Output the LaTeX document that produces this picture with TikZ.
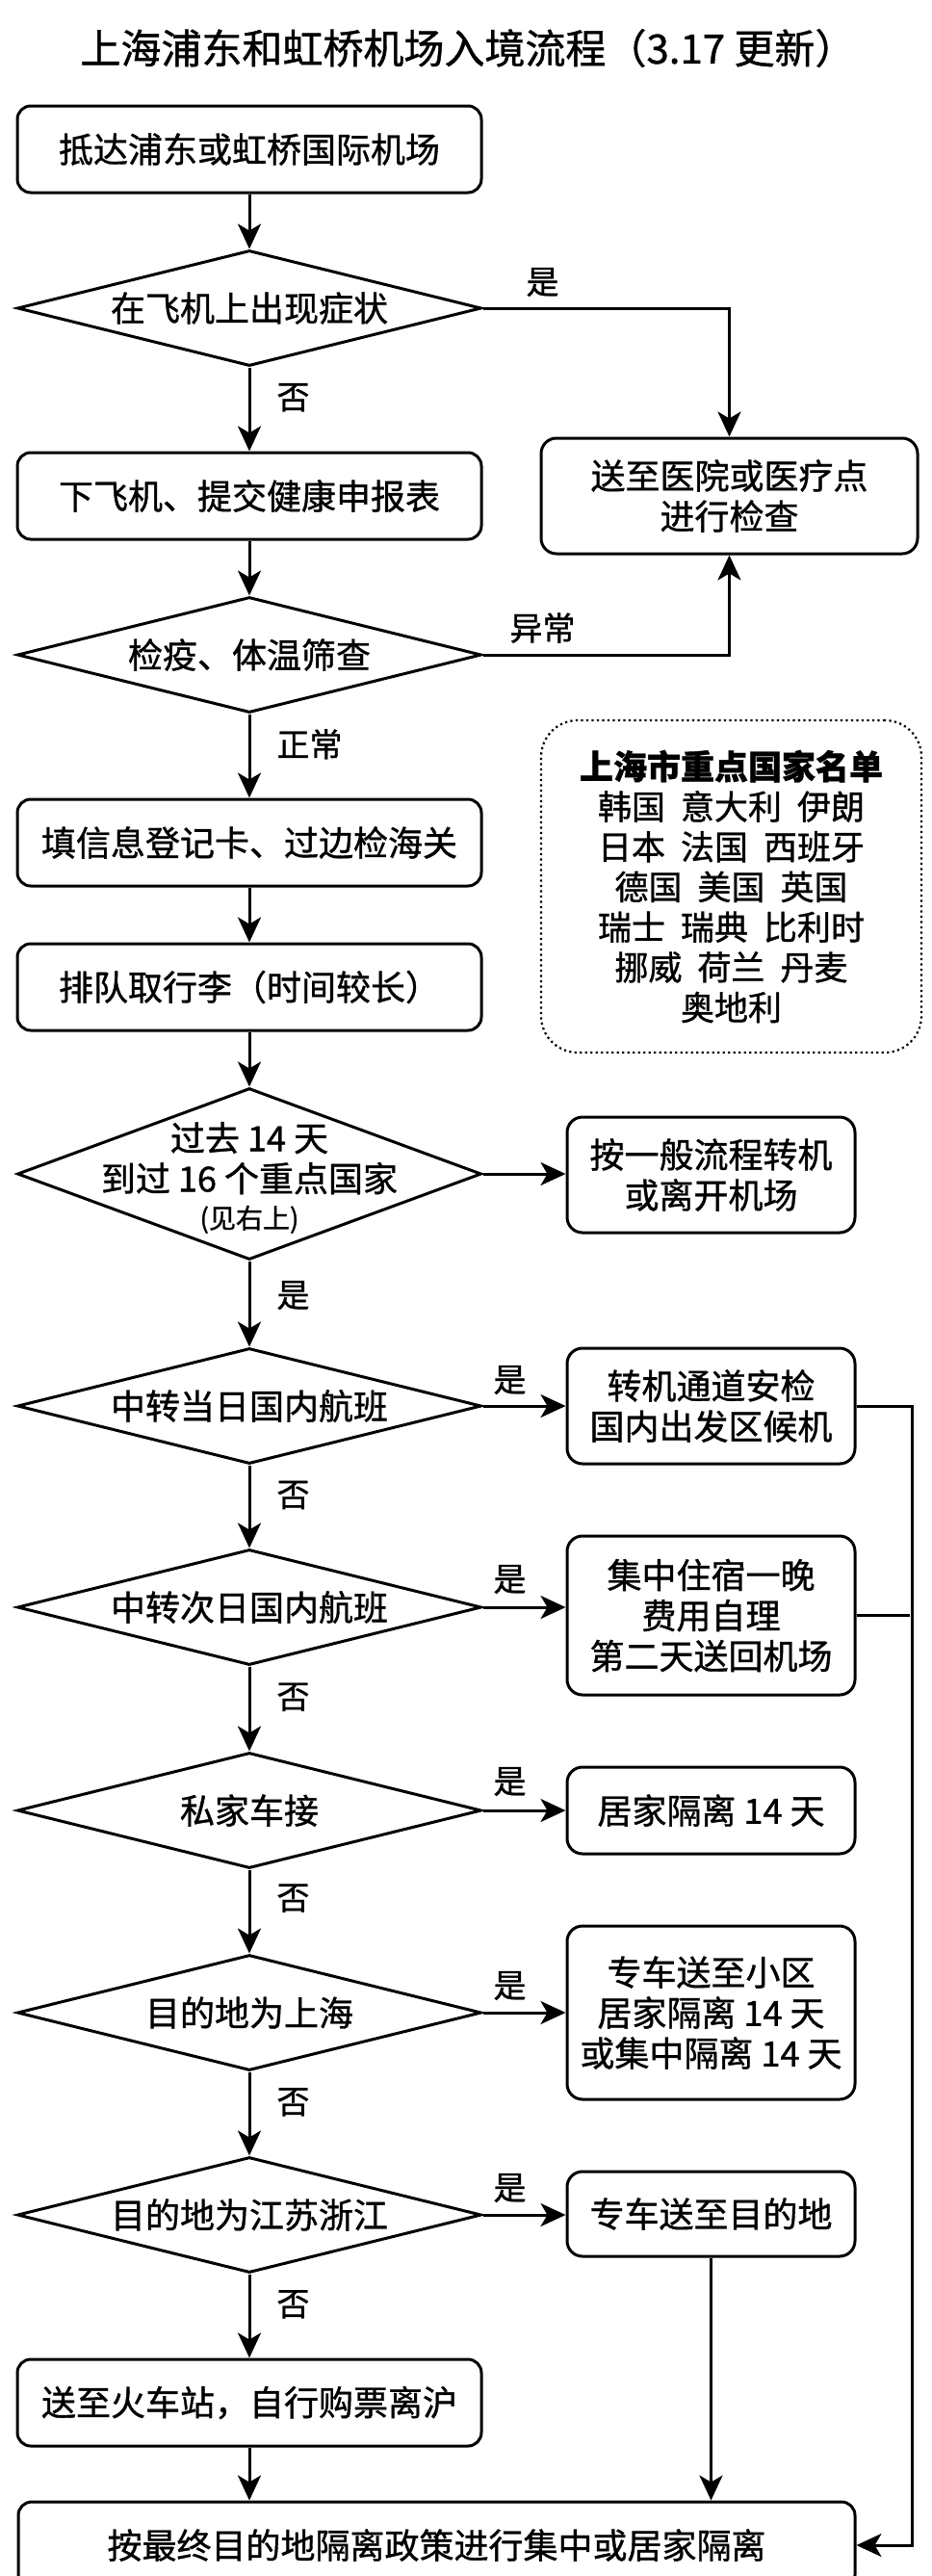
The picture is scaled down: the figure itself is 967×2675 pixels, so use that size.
\documentclass[tikz,border=0pt]{standalone}
\usepackage{fontspec}
\setmainfont{Noto Sans CJK SC}[FakeBold=1]
\usetikzlibrary{shapes.geometric,arrows.meta,calc}
\newcommand\fsz[2]{\fontsize{#1}{#2}\selectfont}
\newcommand\cgap{\hspace{16pt}}
\begin{document}
\begin{tikzpicture}[x=1pt,y=-1pt,
  box/.style={draw, line width=3pt, rounded corners=14pt, minimum width=482pt, minimum height=90pt, inner sep=0pt, font=\fsz{36}{42}, align=center},
  rbox/.style={draw, line width=3pt, rounded corners=16pt, minimum width=299pt, inner sep=0pt, font=\fsz{36}{42}, align=center},
  dia/.style={draw, diamond, line width=3pt, minimum width=482pt, minimum height=120pt, inner sep=0pt},
  txt/.style={inner sep=0pt, font=\fsz{36}{42}, align=center},
  note/.style={draw, line width=2.2pt, dash pattern=on 2.2pt off 3.3pt, rounded corners=38pt, minimum width=395pt, minimum height=345pt, inner sep=0pt, font=\fsz{35}{41.7}, align=center},
  arr/.style={line width=3pt, -{Stealth[length=26pt,width=24pt,inset=7pt]}},
  ln/.style={line width=3pt},
  lbl/.style={inner sep=0pt, font=\fsz{34}{40}},
  ttl/.style={inner sep=0pt, font=\fsz{42}{48}}
]
\useasboundingbox (0,0) rectangle (967,2675);
\fill[white] (0,0) rectangle (967,2675);
\clip (0,0) rectangle (967,2675);

% title
\node[ttl] (title) at (486,50) {上海浦东和虹桥机场入境流程（3.17 更新）};

% main column
\node[box] (b1) at (259,155) {抵达浦东或虹桥国际机场};
\node[dia] (d1) at (259,320) {};
\node[txt] (d1t) at (d1) {在飞机上出现症状};
\node[box] (b2) at (259,515) {下飞机、提交健康申报表};
\node[dia] (d2) at (259,680) {};
\node[txt] (d2t) at (d2) {检疫、体温筛查};
\node[box] (b3) at (259,875) {填信息登记卡、过边检海关};
\node[box] (b4) at (259,1025) {排队取行李（时间较长）};
\node[dia, minimum height=178pt] (d3) at (259,1219) {};
\node[txt] (d3t) at (259,1223) {过去 14 天\\到过 16 个重点国家\\[-4pt]{\fsz{28}{32}(见右上)}};
\node[dia] (d4) at (259,1460) {};
\node[txt] (d4t) at (d4) {中转当日国内航班};
\node[dia] (d5) at (259,1669) {};
\node[txt] (d5t) at (d5) {中转次日国内航班};
\node[dia] (d6) at (259,1880) {};
\node[txt] (d6t) at (d6) {私家车接};
\node[dia] (d7) at (259,2090) {};
\node[txt] (d7t) at (d7) {目的地为上海};
\node[dia] (d8) at (259,2300) {};
\node[txt] (d8t) at (d8) {目的地为江苏浙江};
\node[box] (b5) at (259,2495) {送至火车站，自行购票离沪};
\node[box, minimum width=869pt] (fin) at (453.5,2643) {按最终目的地隔离政策进行集中或居家隔离};

% right column
\node[rbox, minimum width=391pt, minimum height=120pt] (hosp) at (757.5,515) {送至医院或医疗点\\进行检查};
\node[note] (list) at (759.5,920.5) {\textbf{上海市重点国家名单}\\韩国\cgap 意大利\cgap 伊朗\\日本\cgap 法国\cgap 西班牙\\德国\cgap 美国\cgap 英国\\瑞士\cgap 瑞典\cgap 比利时\\挪威\cgap 荷兰\cgap 丹麦\\奥地利};
\node[rbox, minimum height=120pt] (r3) at (738.5,1220) {按一般流程转机\\或离开机场};
\node[rbox, minimum height=120pt] (r4) at (738.5,1460) {转机通道安检\\国内出发区候机};
\node[rbox, minimum height=165pt] (r5) at (738.5,1677.5) {集中住宿一晚\\费用自理\\第二天送回机场};
\node[rbox, minimum height=90pt] (r6) at (738.5,1880) {居家隔离 14 天};
\node[rbox, minimum height=180pt] (r7) at (738.5,2090) {专车送至小区\\居家隔离 14 天\\或集中隔离 14 天};
\node[rbox, minimum height=88pt] (r8) at (738.5,2299) {专车送至目的地};
\coordinate (rx) at (947,1460);

% connectors
\draw[arr] (b1.south) -- (d1.north);
\draw[arr] (d1.south) -- node[lbl,pos=.36,right=27pt]{否} (b2.north);
\draw[arr] (d1.east) -| (hosp.north);
\node[lbl] (y1) at ($(d1.east)+(62,-27)$) {是};
\draw[arr] (b2.south) -- (d2.north);
\draw[arr] (d2.east) -| (hosp.south);
\node[lbl] (y2) at ($(d2.east)+(62,-28)$) {异常};
\draw[arr] (d2.south) -- node[lbl,pos=.36,right=27pt]{正常} (b3.north);
\draw[arr] (b3.south) -- (b4.north);
\draw[arr] (b4.south) -- (d3.north);
\draw[arr] (d3.east) -- (d3.east -| r3.west);
\draw[arr] (d3.south) -- node[lbl,pos=.4,right=27pt]{是} (d4.north);
\draw[arr] (d4.east) -- (r4.west);
\node[lbl] (y4) at ($(d4.east)+(28,-27)$) {是};
\draw[arr] (d4.south) -- node[lbl,pos=.36,right=27pt]{否} (d5.north);
\draw[arr] (d5.east) -- (d5.east -| r5.west);
\node[lbl] (y5) at ($(d5.east)+(28,-29)$) {是};
\draw[arr] (d5.south) -- node[lbl,pos=.36,right=27pt]{否} (d6.north);
\draw[arr] (d6.east) -- (r6.west);
\node[lbl] (y6) at ($(d6.east)+(28,-30)$) {是};
\draw[arr] (d6.south) -- node[lbl,pos=.34,right=27pt]{否} (d7.north);
\draw[arr] (d7.east) -- (r7.west);
\node[lbl] (y7) at ($(d7.east)+(28,-28)$) {是};
\draw[arr] (d7.south) -- node[lbl,pos=.36,right=27pt]{否} (d8.north);
\draw[arr] (d8.east) -- (d8.east -| r8.west);
\node[lbl] (y8) at ($(d8.east)+(28,-28)$) {是};
\draw[arr] (d8.south) -- node[lbl,pos=.36,right=27pt]{否} (b5.north);
\draw[arr] (b5.south) -- (b5.south |- fin.north);
\draw[arr] (r8.south) -- (r8.south |- fin.north);
\draw[arr] (r4.east) -- (r4.east -| rx) |- (fin.east);
\draw[ln] (r5.east) -- ($(r5.east -| rx)+(-2,0)$);
\end{tikzpicture}
\end{document}
